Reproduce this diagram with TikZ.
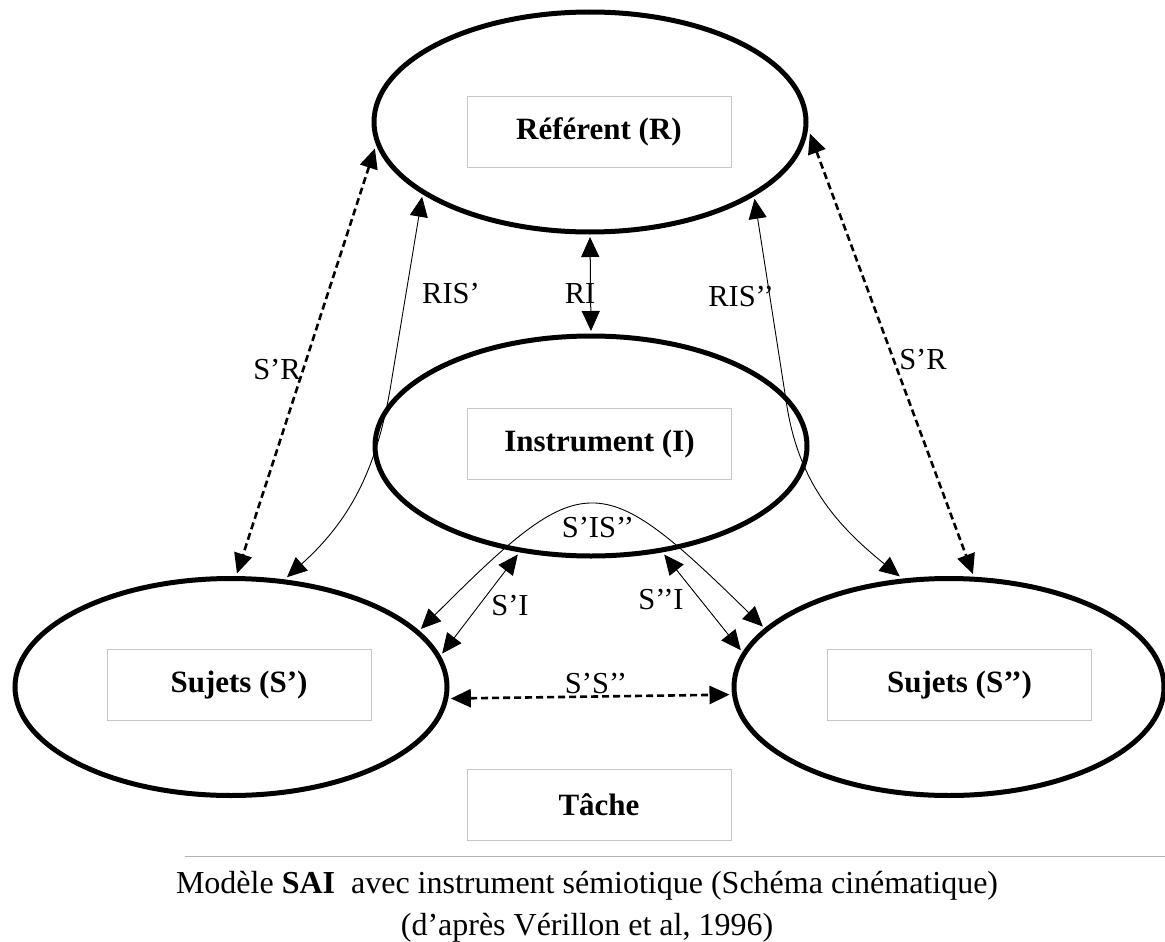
\documentclass[tikz,border=0pt]{standalone}
\usepackage{fontspec}
\setmainfont{Liberation Serif}
\usetikzlibrary{shapes.geometric,arrows.meta}
\begin{document}
\begin{tikzpicture}[x=1pt,y=-1pt,
  ell/.style={ellipse, draw, line width=5pt, minimum width=432pt, minimum height=220pt, inner sep=0pt, outer sep=5pt},
  lbox/.style={draw=black!22, line width=0.8pt, minimum width=264pt, minimum height=71pt, inner sep=0pt, font=\fontsize{31}{36}\selectfont\bfseries},
  lab/.style={font=\fontsize{30.5}{34}\selectfont, inner sep=0pt},
  tips/.style={{Triangle[length=20pt,width=18pt]}-{Triangle[length=20pt,width=18pt]}},
  dashconn/.style={tips, line width=2.6pt, dash pattern=on 7pt off 4pt},
  thinconn/.style={tips, line width=0.9pt},
  ]
\useasboundingbox[fill=white] (0,0) rectangle (1165,942);

% ellipses
\node[ell] (R)  at (590,122) {};
\node[ell] (I)  at (591,446) {};
\node[ell, minimum height=217pt] (S1) at (231,687) {};
\node[ell, minimum height=217pt, minimum width=430pt] (S2) at (949,687) {};

% text boxes
\node[lbox] (bR)  at (599,132) {Référent (R)};
\node[lbox] (bI)  at (599.5,444) {Instrument (I)};
\node[lbox] (bS1) at (239,685) {Sujets (S’)};
\node[lbox] (bS2) at (959.5,685) {Sujets (S’’)};
\node[lbox] (bT)  at (599,805) {Tâche};

% helper coordinates for the bent connectors
\coordinate (c1) at (390,390);
\coordinate (c2) at (786,400);

% connectors
\draw[dashconn] (R.187.4) -- (S1.87);
\draw[dashconn] (R.357.9) -- (S2.78);
\draw[thinconn] (S1.63.6) to[out=42,in=-100] (c1) -- (R.204);
\draw[thinconn] (S2.114.5) to[out=141,in=-82] (c2) -- (R.335.2);
\draw[tips, line width=1pt] (R.south) -- (I.north);
\draw[thinconn] (I.236.7) -- (S1.9.2);
\draw[thinconn] (I.304.4) -- (S2.170.7);
\draw[thinconn] (S1.17.4) .. controls (584,466) and (599,466) .. (S2.162.4);
\draw[dashconn] (S1.357.4) -- (S2.182.7);

% labels
\node[lab] (lSR1) at (277,370) {S’R};
\node[lab] (lRIS1) at (451,294) {RIS’};
\node[lab] (lRI) at (580,294) {RI};
\node[lab] (lRIS2) at (741,297) {RIS’’};
\node[lab] (lSR2) at (923,360) {S’R};
\node[lab] (lSIS) at (598,528) {S’IS’’};
\node[lab] (lSI1) at (510,606) {S’I};
\node[lab] (lSI2) at (661,600) {S’’I};
\node[lab] (lSS) at (596,684) {S’S’’};

% caption
\draw[black!30, line width=1pt] (185,856) -- (1165,856);
\node[anchor=base, inner sep=0pt, font=\fontsize{32}{36}\selectfont] (cap1) at (587,893)
  {Modèle \textbf{SAI}\ \ avec instrument sémiotique (Schéma cinématique)};
\node[anchor=base, inner sep=0pt, font=\fontsize{32}{36}\selectfont] (cap2) at (587,935)
  {(d’après Vérillon et al, 1996)};
\end{tikzpicture}
\end{document}
